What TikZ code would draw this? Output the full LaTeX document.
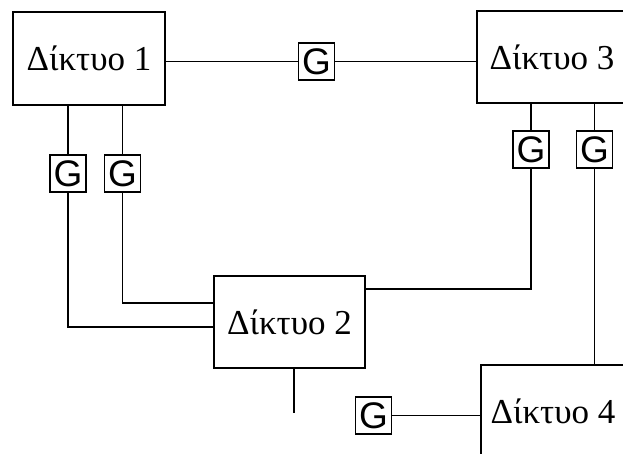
\documentclass[tikz,border=0pt]{standalone}
\usepackage{fontspec}
\setmainfont{Liberation Serif}
\newfontfamily\gfont{Liberation Sans}
\begin{document}
\begin{tikzpicture}[x=1pt,y=-1pt,
  net/.style={draw, line width=1.7pt, inner sep=0pt, font=\fontsize{35}{40}\selectfont},
  gw/.style={draw, line width=1.7pt, inner sep=0pt, minimum width=36pt, minimum height=37pt, font=\gfont\fontsize{37}{40}\selectfont},
  link/.style={line width=1.7pt}]
\useasboundingbox (0,0) rectangle (623,453);
\clip (0,0) rectangle (623,453);
\node[net, minimum width=152pt, minimum height=93pt] (n1) at (89,58.5) {Δίκτυο 1};
\node[net, minimum width=151pt, minimum height=92pt] (n2) at (289.5,322) {Δίκτυο 2};
\node[net, minimum width=150pt, minimum height=92pt] (n3) at (552,57) {Δίκτυο 3};
\node[net, minimum width=144pt, minimum height=92pt] (n4) at (553,411) {Δίκτυο 4};
\node[gw] (gt) at (316.5,61.5) {G};
\node[gw] (ga) at (68,173.5) {G};
\node[gw] (gb) at (122.5,173.5) {G};
\node[gw] (gc) at (531,149.5) {G};
\node[gw] (gd) at (594.5,149.5) {G};
\node[gw] (ge) at (373.5,415.5) {G};
\coordinate (stub) at (294,413);
% top link
\draw[link] (gt.west -| n1.east) -- (gt.west);
\draw[link] (gt.east) -- (gt.east -| n3.west);
% Network 1 to Network 2
\draw[link] (ga.north |- n1.south) -- (ga.north);
\draw[link] (gb.north |- n1.south) -- (gb.north);
\draw[link] (ga.south) |- ([yshift=-5pt]n2.west);
\draw[link] (gb.south) |- ([yshift=19pt]n2.west);
% Network 3 links
\draw[link] (gc.north |- n3.south) -- (gc.north);
\draw[link] (gd.north |- n3.south) -- (gd.north);
\draw[link] (gc.south) |- ([yshift=33pt]n2.east);
\draw[link] (gd.south) -- (gd.south |- n4.north);
% Network 2 stub
\draw[link] (stub |- n2.south) -- (stub);
% Network 4 gateway
\draw[link] (ge.east) -- (ge.east -| n4.west);
\end{tikzpicture}
\end{document}
